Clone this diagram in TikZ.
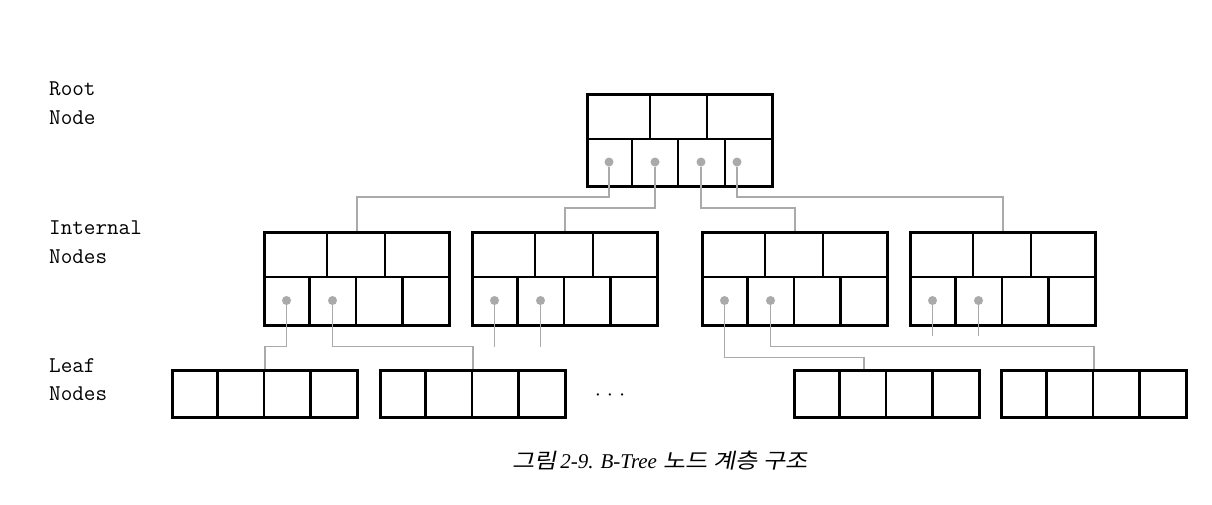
\documentclass[tikz,border=0pt]{standalone}
\usepackage{fontspec}
\newfontfamily\krfont[FakeSlant=0.2,FakeStretch=1.15]{Noto Sans CJK KR}
\newfontfamily\capserif{Liberation Serif}
\usetikzlibrary{calc,shadows}
\definecolor{linkgray}{HTML}{AAAAAA}
\tikzset{
  boxframe/.style={rectangle, draw=black, line width=2.6pt, fill=white, minimum width=185pt,
    inner sep=0pt, anchor=north west,
    drop shadow={shadow xshift=1.5pt, shadow yshift=-1.5pt, opacity=0.18}},
  inode/.style={boxframe, minimum height=93pt},
  rnode/.style={boxframe, minimum height=92pt},
  lnode/.style={boxframe, minimum height=47pt},
  cellline/.style={line width=2.6pt, black},
  link/.style={draw=linkgray, line width=1.5pt},
  ptr/.style={circle, fill=linkgray, inner sep=0pt, minimum size=9pt},
  lbl/.style={font=\fontsize{22.5}{28.5}\selectfont\ttfamily, align=left, anchor=north west, inner sep=0pt},
}
\begin{document}
\begin{tikzpicture}[x=1pt,y=-1pt]
\useasboundingbox (0,0) rectangle (1212,504);

% labels
\node[lbl] (lroot) at (49,82) {Root\\Node};
\node[lbl] (lint) at (49,221) {Internal\\Nodes};
\node[lbl] (lleaf) at (49,358) {Leaf\\Nodes};

% root node
\node[rnode] (root) at (586,93) {};
\draw[cellline] (586,139) -- (771,139);
\draw[cellline] (650,93) -- (650,139);
\draw[cellline] (707,93) -- (707,139);
\draw[cellline] (632,139) -- (632,185);
\draw[cellline] (678,139) -- (678,185);
\draw[cellline] (725,139) -- (725,185);

% internal nodes
\foreach \n/\x in {i1/263, i2/471, i3/701, i4/909}{
  \node[inode] (\n) at (\x,231) {};
  \draw[cellline] (\x,277) -- (\x+185,277);
  \draw[cellline] (\x+64,231) -- (\x+64,277);
  \draw[cellline] (\x+122,231) -- (\x+122,277);
  \draw[cellline] (\x+46.5,277) -- (\x+46.5,324);
  \draw[cellline] (\x+93,277) -- (\x+93,324);
  \draw[cellline] (\x+139.5,277) -- (\x+139.5,324);
  \node[ptr] (\n p1) at (\x+23.5,300.5) {};
  \node[ptr] (\n p2) at (\x+69.5,300.5) {};
}

% leaf nodes
\foreach \n/\x in {l1/171, l2/379, l3/793, l4/1000}{
  \node[lnode] (\n) at (\x,369) {};
  \draw[cellline] (\x+46.5,369) -- (\x+46.5,416);
  \draw[cellline] (\x+93,369) -- (\x+93,416);
  \draw[cellline] (\x+139.5,369) -- (\x+139.5,416);
}

\node[inner sep=0pt] (ell) at (610,399) {\fontsize{28}{28}\selectfont\textperiodcentered\hspace{-8pt}\textperiodcentered\hspace{-8pt}\textperiodcentered};

% root pointers
\node[ptr] (rp1) at (609,162) {};
\node[ptr] (rp2) at (655,162) {};
\node[ptr] (rp3) at (701,162) {};
\node[ptr] (rp4) at (737,162) {};

\draw[link] (rp1) -- ++(0,35) -| (i1.north);
\draw[link] (rp2) -- ++(0,46) -| (i2.north);
\draw[link] (rp3) -- ++(0,46) -| (i3.north);
\draw[link] (rp4) -- ++(0,35) -| (i4.north);

% internal pointers
\coordinate (l3in) at ($(l3.north)+(-23,0)$);
\draw[link] (i1p1) -- ++(0,46) -| (l1.north);
\draw[link] (i1p2) -- ++(0,46) -| (l2.north);
\draw[link] (i3p1) -- ++(0,57) -| (l3in);
\draw[link] (i3p2) -- ++(0,46) -| (l4.north);

\coordinate (i2s1) at ($(i2p1)+(0,46)$);
\coordinate (i2s2) at ($(i2p2)+(0,46)$);
\coordinate (i4s1) at ($(i4p1)+(0,35)$);
\coordinate (i4s2) at ($(i4p2)+(0,35)$);
\draw[link] (i2p1) -- (i2s1);
\draw[link] (i2p2) -- (i2s2);
\draw[link] (i4p1) -- (i4s1);
\draw[link] (i4p2) -- (i4s2);

% caption
\node[anchor=base, inner sep=0pt] (cap) at (660,468)
  {\fontsize{21}{24}\selectfont{\krfont 그림}\,{\capserif\itshape 2-9. B-Tree} {\krfont 노드 계층 구조}};
\end{tikzpicture}
\end{document}
